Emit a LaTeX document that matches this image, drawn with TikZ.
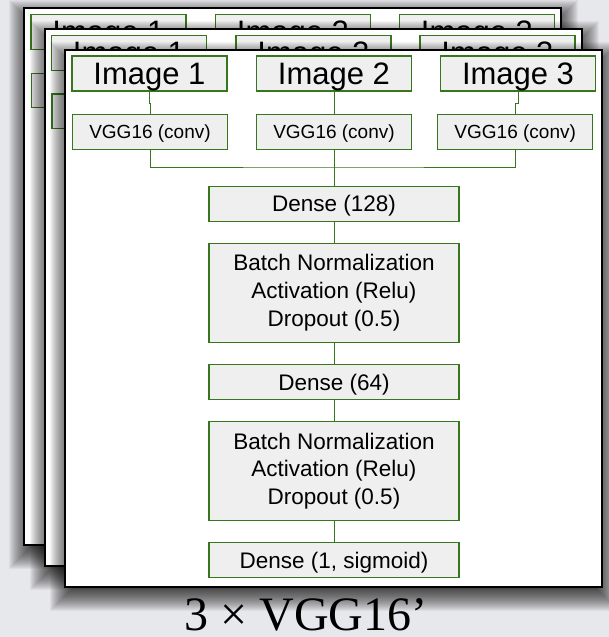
\documentclass[tikz,border=0pt]{standalone}
\usepackage{fontspec}
\setmainfont{Liberation Sans}
\newfontfamily\captionserif{Liberation Serif}

\definecolor{pagebg}{RGB}{231,232,236}
\definecolor{boxfill}{RGB}{239,239,239}
\definecolor{boxline}{RGB}{56,118,29}

\tikzset{
  sheetframe/.style={draw=black, line width=2pt, fill=white, inner sep=0pt,
    minimum width=537pt, minimum height=537pt},
  shadowlayer/.style={fill=black, opacity=0.045},
  basebox/.style={draw=boxline, line width=1.1pt, fill=boxfill, inner sep=0pt},
  inputbox/.style={basebox, minimum width=155pt, minimum height=35pt,
    text depth=0pt, font=\fontsize{31}{37}\selectfont},
  convbox/.style={basebox, minimum width=155pt, minimum height=34.5pt,
    text depth=0pt, font=\fontsize{19}{23}\selectfont},
  layer/.style={basebox, minimum width=250pt, minimum height=35pt,
    text depth=0pt, font=\fontsize{22.5}{27.7}\selectfont},
  blocklayer/.style={basebox, minimum width=250pt, minimum height=99pt,
    align=center, font=\fontsize{22.5}{27.7}\selectfont},
  link/.style={draw=boxline, line width=1pt},
  % one complete network sheet, origin at its top-left corner
  panel/.pic={
    % soft drop shadow: stacked translucent rectangles, shifted down
    \foreach \r in {-12,...,16}
      \fill[shadowlayer] (1-\r,8-\r) rectangle (538+\r,545+\r);
    \node[sheetframe] (-frame) at (268.5,268.5) {};
    \node[inputbox] (-img1) at (84.5,24) {Image 1};
    \node[inputbox] (-img2) at (269,24) {Image 2};
    \node[inputbox] (-img3) at (453,24) {Image 3};
    \node[convbox] (-vgg1) at (85,82.5) {VGG16 (conv)};
    \node[convbox] (-vgg2) at (269,82.5) {VGG16 (conv)};
    \node[convbox] (-vgg3) at (450.2,82.5) {VGG16 (conv)};
    \coordinate (-join) at (269,117.5);
    \node[layer] (-d128) at (269,154.2) {Dense (128)};
    \node[blocklayer] (-bn1) at (269,243.3)
      {Batch Normalization\\Activation (Relu)\\Dropout (0.5)};
    \node[layer] (-d64) at (269,332.5) {Dense (64)};
    \node[blocklayer] (-bn2) at (269,421.5)
      {Batch Normalization\\Activation (Relu)\\Dropout (0.5)};
    \node[layer] (-out) at (269,510.5) {Dense (1, sigmoid)};
    \draw[link] (-img1.south) -- ++(0,11.5) -| (-vgg1.north);
    \draw[link] (-img2.south) -- (-vgg2.north);
    \draw[link] (-img3.south) -- ++(0,11.5) -| (-vgg3.north);
    \draw[link] (-vgg1.south) |- (-join) -| (-vgg3.south);
    \draw[link] (-vgg2.south) -- (-d128.north);
    \draw[link] (-d128.south) -- (-bn1.north);
    \draw[link] (-bn1.south) -- (-d64.north);
    \draw[link] (-d64.south) -- (-bn2.north);
    \draw[link] (-bn2.south) -- (-out.north);
  }
}

\begin{document}
\begin{tikzpicture}[x=1pt, y=-1pt]
  \useasboundingbox (0,0) rectangle (609,637);
  \fill[pagebg] (0,0) rectangle (609,637);

  % three stacked copies of the network, back to front
  \pic (s1) at (24,8) {panel};
  \pic (s2) at (44.5,28.7) {panel};
  \pic (s3) at (65,49.5) {panel};

  \node[font=\captionserif\fontsize{48}{56}\selectfont, anchor=base,
        inner sep=0pt] (caption) at (306,630) {3 × VGG16’};
\end{tikzpicture}
\end{document}
